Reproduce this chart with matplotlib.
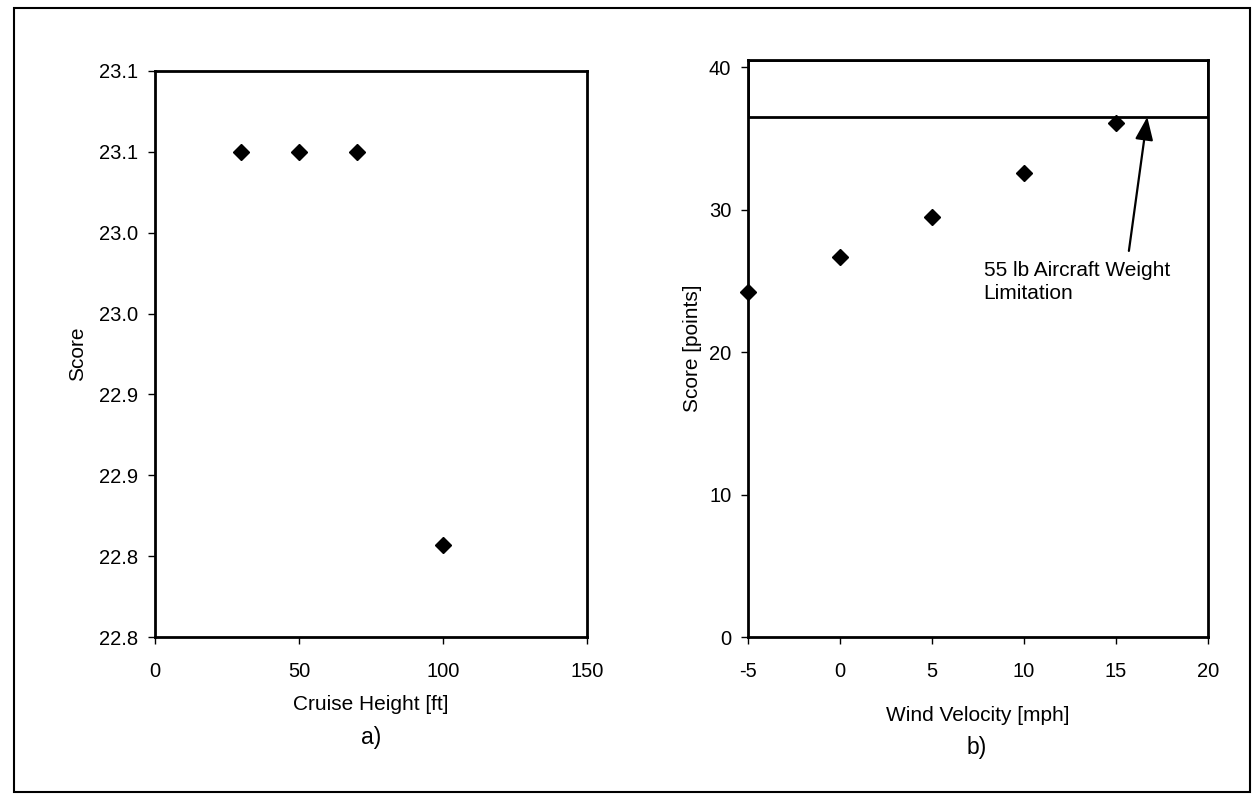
# plot.py
# Two-panel score sensitivity plot: cruise height (a) and wind velocity (b).

import matplotlib.pyplot as plt
from matplotlib.patches import Rectangle

plt.rcParams["font.family"] = ["Liberation Sans", "DejaVu Sans"]
plt.rcParams["axes.unicode_minus"] = False

# a) score vs cruise height
height_ft = [30, 50, 70, 100]
height_score = [23.05, 23.05, 23.05, 22.807]
height_yticks = [22.75, 22.80, 22.85, 22.90, 22.95, 23.00, 23.05, 23.10]
height_yticklabels = ["22.8", "22.8", "22.9", "22.9", "23.0", "23.0", "23.1", "23.1"]
height_xticks = [0, 50, 100, 150]

# b) score vs wind velocity
wind_mph = [-5, 0, 5, 10, 15]
wind_score = [24.2, 26.7, 29.5, 32.6, 36.1]
wind_xticks = [-5, 0, 5, 10, 15, 20]
wind_yticks = [0, 10, 20, 30, 40]
limit_score = 36.5
limit_top = 40.5

FS = 15
TFS = 14.5

fig = plt.figure(figsize=(12.59, 8.02), dpi=100)

# outer frame around the whole figure
fig.patches.append(Rectangle((0.011, 0.012), 0.982, 0.978, transform=fig.transFigure,
                             fill=False, edgecolor="black", linewidth=1.5))

# ---- panel a ----
ax1 = fig.add_axes([0.1231, 0.2057, 0.3431, 0.7058])
ax1.plot(height_ft, height_score, linestyle="none", marker="D", markersize=8.5,
         color="black")
ax1.set_xlim(0, 150)
ax1.set_ylim(22.75, 23.10)
ax1.set_xticks(height_xticks)
ax1.set_yticks(height_yticks)
ax1.set_yticklabels(height_yticklabels)
ax1.set_xlabel("Cruise Height [ft]", fontsize=FS, labelpad=10)
ax1.set_ylabel("Score", fontsize=FS, labelpad=9)
fig.text(0.2945, 0.080, "a)", fontsize=FS + 1.5, ha="center", va="center")

# ---- panel b ----
ax2 = fig.add_axes([0.5941, 0.2057, 0.3654, 0.7195])
ax2.plot(wind_mph, wind_score, linestyle="none", marker="D", markersize=8.5,
         color="black", clip_on=False, zorder=5)
ax2.add_patch(Rectangle((-5, limit_score), 25, limit_top - limit_score,
                        fill=False, edgecolor="black", linewidth=2))
ax2.set_xlim(-5, 20)
ax2.set_ylim(0, limit_top)
ax2.set_xticks(wind_xticks)
ax2.set_yticks(wind_yticks)
ax2.set_xlabel("Wind Velocity [mph]", fontsize=FS, labelpad=18)
ax2.set_ylabel("Score [points]", fontsize=FS, labelpad=5)
fig.text(0.776, 0.068, "b)", fontsize=FS + 1.5, ha="center", va="center")

ax2.text(7.8, 26.4, "55 lb Aircraft Weight\nLimitation", fontsize=FS,
         ha="left", va="top", linespacing=1.3)
ax2.annotate("", xy=(16.7, limit_score), xytext=(15.7, 27.1),
             arrowprops=dict(arrowstyle="-|>,head_length=1.4,head_width=0.55",
                             color="black", linewidth=1.6,
                             shrinkA=0, shrinkB=0))

for ax in (ax1, ax2):
    for s in ax.spines.values():
        s.set_linewidth(2)
    ax.tick_params(direction="out", length=5, width=1, labelsize=TFS)
    ax.tick_params(axis="y", pad=7)
    ax.tick_params(axis="x", pad=13)

plt.savefig("out.png", dpi=100)
plt.close()
